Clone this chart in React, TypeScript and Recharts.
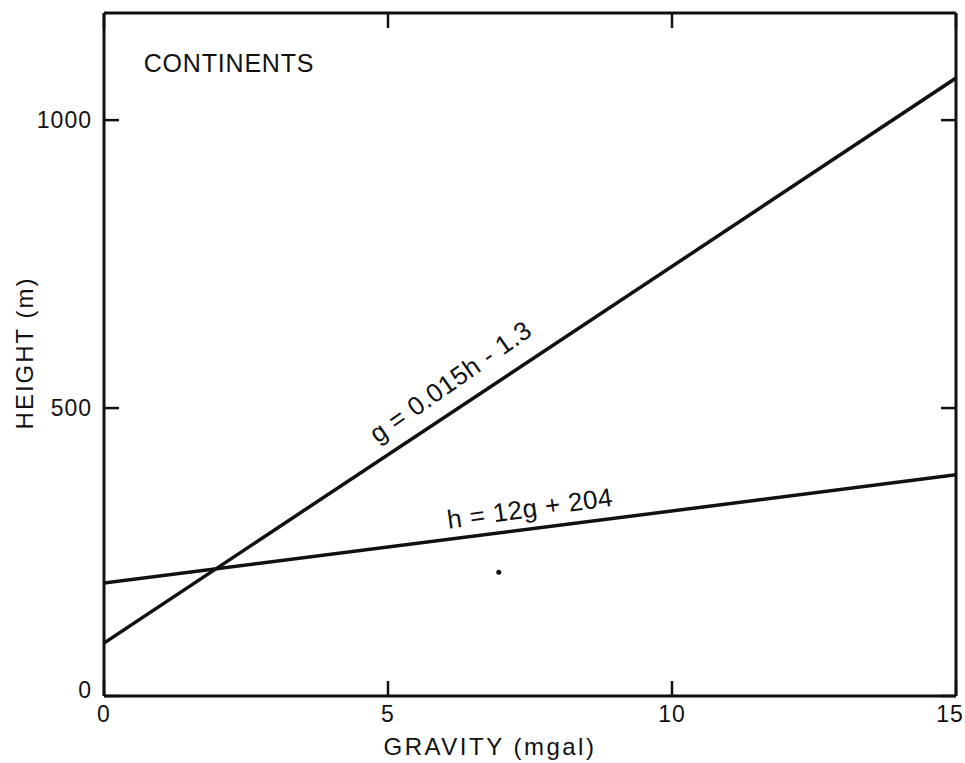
import { Label, Line, LineChart, ReferenceDot, ReferenceLine, XAxis, YAxis } from "recharts";

// gravity anomaly (mgal) at the ends of each fitted line
const gravity = [0, 15];
// g = 0.015h - 1.3, solved for height
const heightFromGravityFit = [92, 1073];
// h = 12g + 204
const heightRegression = [196, 384];

const xTicks = [0, 5, 10, 15];
const yTicks = [0, 500, 1000];

// smudge in the original scan
const strayMarks = [{ g: 6.95, h: 215 }];

const fitData = gravity.map((g, i) => ({ g, h: heightFromGravityFit[i] }));
const regressionData = gravity.map((g, i) => ({ g, h: heightRegression[i] }));

const FONT = "'Liberation Sans', Arial, Helvetica, sans-serif";
const INK = "#111";

const W = 965;
const H = 763;
const MARGIN = { top: 13, right: 9, bottom: 0, left: 0 };
const X_AXIS_H = 67;
const Y_AXIS_W = 104;
const PLOT_LEFT = MARGIN.left + Y_AXIS_W;
const PLOT_RIGHT = W - MARGIN.right;
const PLOT_TOP = MARGIN.top;
const PLOT_BOTTOM = H - MARGIN.bottom - X_AXIS_H;
const TICK = 15;
const Y_MAX = 1186;

// inward ticks on the bottom and top edges, label under the bottom one
function GravityTick({ x, payload }: any) {
  return (
    <g>
      <line x1={x} x2={x} y1={PLOT_BOTTOM} y2={PLOT_BOTTOM - TICK} stroke={INK} strokeWidth={2.5} />
      <line x1={x} x2={x} y1={PLOT_TOP} y2={PLOT_TOP + TICK} stroke={INK} strokeWidth={2.5} />
      <text
        x={x - (payload.value === 15 ? 6 : 0)}
        y={PLOT_BOTTOM + 18}
        textAnchor="middle"
        dominantBaseline="central"
        fontSize={23}
        fontFamily={FONT}
        letterSpacing={1}
        fill={INK}
      >
        {payload.value}
      </text>
    </g>
  );
}

// inward ticks on the left and right edges, label left of the axis
function HeightTick({ y, payload }: any) {
  return (
    <g>
      <line x1={PLOT_LEFT} x2={PLOT_LEFT + TICK} y1={y} y2={y} stroke={INK} strokeWidth={2.5} />
      <line x1={PLOT_RIGHT - TICK} x2={PLOT_RIGHT} y1={y} y2={y} stroke={INK} strokeWidth={2.5} />
      <text
        x={PLOT_LEFT - 12}
        y={y - (payload.value === 0 ? 6 : 0)}
        textAnchor="end"
        dominantBaseline="central"
        fontSize={23}
        fontFamily={FONT}
        letterSpacing={1}
        fill={INK}
      >
        {payload.value}
      </text>
    </g>
  );
}

function EquationLabel({ cx, cy, angle, text }: { cx: number; cy: number; angle: number; text: string }) {
  return (
    <text
      x={cx}
      y={cy}
      transform={`rotate(${angle} ${cx} ${cy})`}
      textAnchor="middle"
      dominantBaseline="central"
      fontSize={26}
      fontFamily={FONT}
      letterSpacing={0.5}
      fill={INK}
    >
      {text}
    </text>
  );
}

function App() {
  return (
    <div style={{ position: "absolute", left: 0, top: 0, background: "#fff" }}>
      <LineChart width={W} height={H} margin={MARGIN}>
        <XAxis
          xAxisId="bottom"
          dataKey="g"
          type="number"
          domain={[0, 15]}
          ticks={xTicks}
          allowDataOverflow
          height={X_AXIS_H}
          stroke={INK}
          strokeWidth={3}
          tickLine={false}
          tick={<GravityTick />}
        >
          <Label
            content={({ viewBox }: any) => (
              <text
                x={viewBox.x + viewBox.width / 2 - 40}
                y={viewBox.y + 59}
                textAnchor="middle"
                fontSize={24}
                fontFamily={FONT}
                letterSpacing={2.5}
                fill={INK}
              >
                GRAVITY (mgal)
              </text>
            )}
          />
        </XAxis>
        <YAxis
          yAxisId="left"
          type="number"
          domain={[0, Y_MAX]}
          ticks={yTicks}
          allowDataOverflow
          width={Y_AXIS_W}
          stroke={INK}
          strokeWidth={3}
          tickLine={false}
          tick={<HeightTick />}
        >
          <Label
            content={() => (
              <text
                x={24}
                y={353}
                transform="rotate(-90 24 353)"
                textAnchor="middle"
                dominantBaseline="central"
                fontSize={24}
                fontFamily={FONT}
                letterSpacing={2}
                fill={INK}
              >
                HEIGHT (m)
              </text>
            )}
          />
        </YAxis>
        <ReferenceLine xAxisId="bottom" yAxisId="left" y={Y_MAX} stroke={INK} strokeWidth={3} />
        <ReferenceLine xAxisId="bottom" yAxisId="left" x={15} stroke={INK} strokeWidth={3} />
        <Line
          xAxisId="bottom"
          yAxisId="left"
          data={fitData}
          dataKey="h"
          type="linear"
          stroke={INK}
          strokeWidth={3.5}
          dot={false}
          isAnimationActive={false}
        />
        <Line
          xAxisId="bottom"
          yAxisId="left"
          data={regressionData}
          dataKey="h"
          type="linear"
          stroke={INK}
          strokeWidth={3.5}
          dot={false}
          isAnimationActive={false}
        />
        <ReferenceDot
          xAxisId="bottom"
          yAxisId="left"
          x={0.7}
          y={1100}
          r={0}
          stroke="none"
          label={
            <Label
              content={({ viewBox }: any) => (
                <text
                  x={viewBox.x}
                  y={viewBox.y}
                  dominantBaseline="central"
                  fontSize={25}
                  fontFamily={FONT}
                  letterSpacing={0.8}
                  fill={INK}
                >
                  CONTINENTS
                </text>
              )}
            />
          }
        />
        <ReferenceDot
          xAxisId="bottom"
          yAxisId="left"
          x={6.1}
          y={546}
          r={0}
          stroke="none"
          label={
            <Label
              content={({ viewBox }: any) => (
                <EquationLabel cx={viewBox.x} cy={viewBox.y} angle={-35} text="g = 0.015h - 1.3" />
              )}
            />
          }
        />
        <ReferenceDot
          xAxisId="bottom"
          yAxisId="left"
          x={7.5}
          y={326}
          r={0}
          stroke="none"
          label={
            <Label
              content={({ viewBox }: any) => (
                <EquationLabel cx={viewBox.x} cy={viewBox.y} angle={-8} text="h = 12g + 204" />
              )}
            />
          }
        />
        {strayMarks.map((m, i) => (
          <ReferenceDot
            key={i}
            xAxisId="bottom"
            yAxisId="left"
            x={m.g}
            y={m.h}
            r={2.5}
            fill={INK}
            stroke="none"
          />
        ))}
      </LineChart>
    </div>
  );
}

export default App;
